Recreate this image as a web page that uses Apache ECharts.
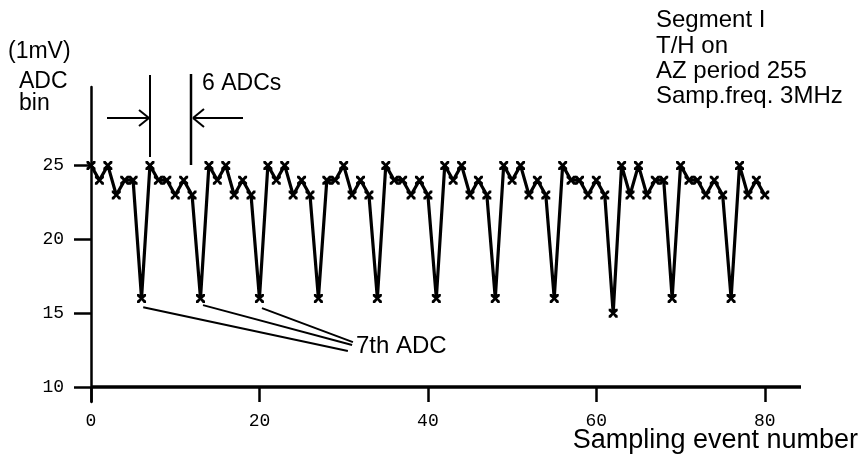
<!DOCTYPE html>
<html><head><meta charset="utf-8">
<script src="https://cdn.jsdelivr.net/npm/echarts@6/dist/echarts.min.js"></script>
<style>html,body{margin:0;padding:0;background:#fff}#c{width:861px;height:466px}</style>
</head><body><div id="c"></div>
<script>
// Sampling event numbers (x) and ADC bin values (y)
const sampleNumbers = [0,1,2,3,4,5,6,7,8,9,10,11,12,13,14,15,16,17,18,19,20,21,22,23,24,25,26,27,28,29,30,31,32,33,34,35,36,37,38,39,40,41,42,43,44,45,46,47,48,49,50,51,52,53,54,55,56,57,58,59,60,61,62,63,64,65,66,67,68,69,70,71,72,73,74,75,76,77,78,79,80];
const adcValues = [25,24,25,23,24,24,16,
  25,24,24,23,24,23,16,
  25,24,25,23,24,23,16,
  25,24,25,23,24,23,16,
  24,24,25,23,24,23,16,
  25,24,24,23,24,23,16,
  25,24,25,23,24,23,16,
  25,24,25,23,24,23,16,
  25,24,24,23,24,23,15,
  25,23,25,23,24,24,16,
  25,24,24,23,24,23,16,
  25,23,24,23];
const xTicks = [0,20,40,60,80];
const yTicks = [10,15,20,25];

const chart = echarts.init(document.getElementById('c'), null, {renderer:'canvas'});
const sans = 'Liberation Sans';
const mono = 'Liberation Mono';
const xMark = 'path://M0,0L2.5,0L5,3L7.5,0L10,0L10,2.5L7,5L10,7.5L10,10L7.5,10L5,7L2.5,10L0,10L0,7.5L3,5L0,2.5Z';

const leaderStarts = [[6.2,15.4],[13.3,15.55],[20.3,15.35]];
const leaderEnds = [[30.5,12.45],[31.0,12.85],[31.1,13.05]];

function txt(t, x, y, size, align) {
  return {type:'text', x:x, y:y, style:{text:t, fill:'#000', font:'normal ' + size + 'px "' + sans + '"', textAlign:align||'left', textVerticalAlign:'middle'}};
}
function seg(x1,y1,x2,y2,w){
  return {type:'line', shape:{x1:x1,y1:y1,x2:x2,y2:y2}, style:{stroke:'#000', lineWidth:w||2}};
}

chart.setOption({
  animation:false,
  backgroundColor:'#fff',
  grid:{left:91, right:60, top:87, bottom:64},
  xAxis:{type:'value', min:0, max:84.3, position:'bottom',
    axisLine:{show:false},
    axisTick:{show:true, inside:true, length:15, customValues:xTicks, lineStyle:{color:'#000', width:2.5}},
    axisLabel:{customValues:xTicks, margin:10, color:'#000', fontFamily:mono, fontSize:18},
    splitLine:{show:false}},
  yAxis:{type:'value', min:9, max:30.3,
    axisLine:{show:true, lineStyle:{color:'#000', width:2.5}},
    axisTick:{show:true, length:17, customValues:yTicks, lineStyle:{color:'#000', width:2.5}},
    axisLabel:{customValues:yTicks, margin:27, color:'#000', fontFamily:mono, fontSize:18},
    splitLine:{show:false}},
  series:[{
    type:'line',
    data: sampleNumbers.map((x,i)=>[x, adcValues[i]]),
    symbol:xMark, symbolSize:9, showAllSymbol:true,
    lineStyle:{color:'#000', width:3.2},
    itemStyle:{color:'#000'},
    markLine:{silent:true, symbol:'none', animation:false, label:{show:false},
      data:[
        {yAxis:10, lineStyle:{color:'#000', width:3.5, type:'solid'}},
        ...leaderStarts.map((s,i)=>[{coord:s, lineStyle:{color:'#000', width:2, type:'solid'}},{coord:leaderEnds[i]}])
      ]}
  }],
  graphic:[
    txt('(1mV)', 8, 52, 23),
    txt('ADC', 19, 82, 23),
    txt('bin', 19, 104, 23),
    txt('6 ADCs', 202, 84, 23),
    txt('7th ADC', 356, 346, 24),
    txt('Segment I', 656, 20, 24),
    txt('T/H on', 656, 46, 24),
    txt('AZ period 255', 656, 71, 24),
    txt('Samp.freq. 3MHz', 656, 96, 24),
    txt('Sampling event number', 858, 441, 27, 'right'),
    seg(150,75,150,157,2),
    seg(191,74,191,165,2.5),
    seg(107,118,149,118,2),
    seg(149,118,139,110,2),
    seg(149,118,139,126,2),
    seg(243,118,193,118,2),
    seg(193,118,204,109,2),
    seg(193,118,204,127,2)
  ]
});
</script></body></html>
